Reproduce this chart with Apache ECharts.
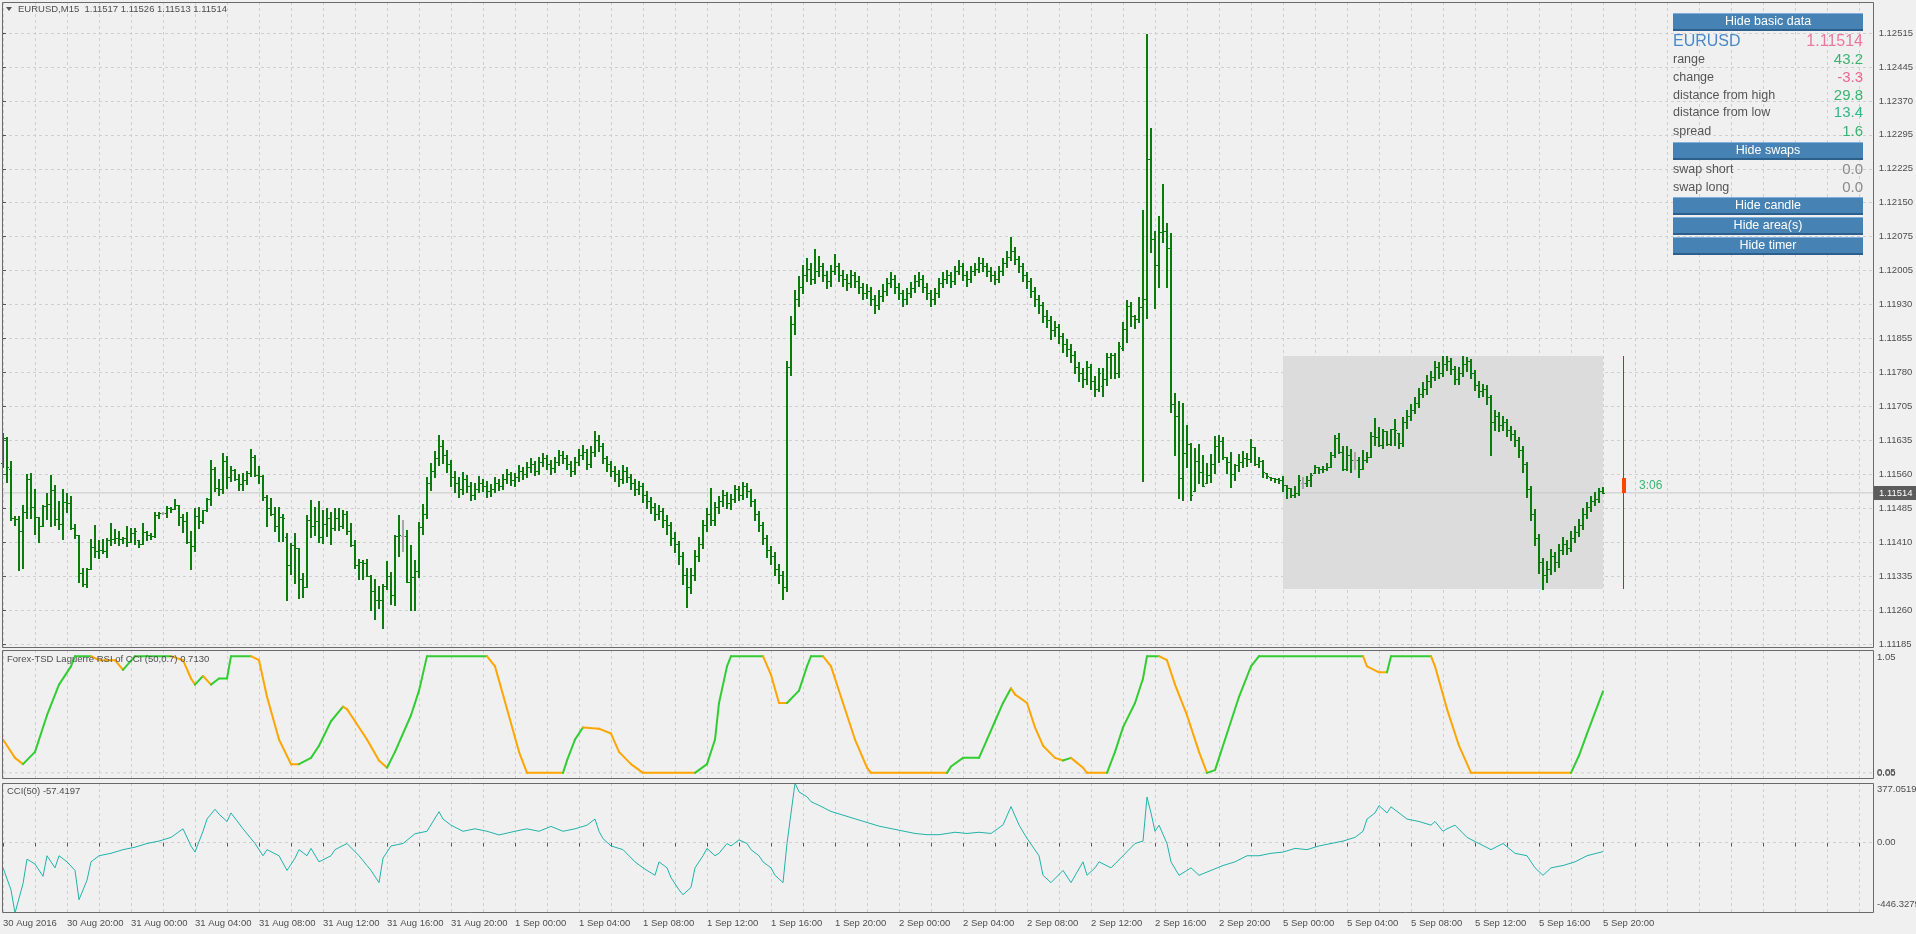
<!DOCTYPE html>
<html><head><meta charset="utf-8">
<script src="https://cdn.jsdelivr.net/npm/echarts@6/dist/echarts.min.js"></script>
<style>html,body{margin:0;padding:0;background:#f0f0f0;}#c{width:1916px;height:934px;}</style>
</head><body><div id="c"></div>
<script>
// ---------------- data ----------------
const xLabels = ['30 Aug 2016','30 Aug 20:00','31 Aug 00:00','31 Aug 04:00','31 Aug 08:00','31 Aug 12:00','31 Aug 16:00','31 Aug 20:00','1 Sep 00:00','1 Sep 04:00','1 Sep 08:00','1 Sep 12:00','1 Sep 16:00','1 Sep 20:00','2 Sep 00:00','2 Sep 04:00','2 Sep 08:00','2 Sep 12:00','2 Sep 16:00','2 Sep 20:00','5 Sep 00:00','5 Sep 04:00','5 Sep 08:00','5 Sep 12:00','5 Sep 16:00','5 Sep 20:00'];
const priceLabels = ['1.11185','1.11260','1.11335','1.11410','1.11485','1.11560','1.11635','1.11705','1.11780','1.11855','1.11930','1.12005','1.12075','1.12150','1.12225','1.12295','1.12370','1.12445','1.12515'];
const quote = [1.11517, 1.11526, 1.11513, 1.11514];
const dayOHLC = [1.11547, 1.11812, 1.11304, 1.11514];
const areaBars = [320, 400];
const candleBar = [405];
const timerText = ['3:06'];
const lrsiRange = [0, 1.05];
const lrsiLevels = [0.05];
const cciRange = [-446.3279, 377.0519];
const cciLevels = [0];

const barOpen = [
1.11578,1.11633,1.11567,1.11459,1.11457,1.11431,1.11473,1.11544,1.11483,1.11461,
1.11442,1.11486,1.11489,1.11520,1.11457,1.11447,1.11495,1.11493,1.11437,1.11422,
1.11339,1.11316,1.11348,1.11397,1.11388,1.11390,1.11388,1.11411,1.11413,1.11415,
1.11413,1.11415,1.11408,1.11426,1.11411,1.11403,1.11428,1.11422,1.11420,1.11466,
1.11471,1.11471,1.11481,1.11478,1.11487,1.11462,1.11452,1.11406,1.11399,1.11464,
1.11452,1.11477,1.11500,1.11567,1.11524,1.11523,1.11583,1.11549,1.11564,1.11544,
1.11533,1.11542,1.11557,1.11591,1.11553,1.11551,1.11506,1.11481,1.11469,1.11441,
1.11462,1.11417,1.11356,1.11401,1.11393,1.11326,1.11310,1.11454,1.11441,1.11452,
1.11417,1.11447,1.11459,1.11437,1.11459,1.11441,1.11468,1.11430,1.11401,1.11357,
1.11364,1.11362,1.11333,1.11301,1.11280,1.11281,1.11311,1.11333,1.11292,1.11420,
1.11420,1.11420,1.11321,1.11330,1.11345,
1.11440,1.11469,1.11536,1.11562,1.11589,1.11616,1.11597,1.11576,1.11549,1.11536,
1.11522,1.11544,1.11528,1.11509,1.11522,1.11536,1.11528,1.11517,1.11522,1.11536,
1.11528,1.11544,1.11554,1.11541,1.11549,1.11562,1.11554,1.11570,1.11576,1.11562,
1.11581,1.11589,1.11576,1.11568,1.11581,1.11597,1.11589,1.11576,1.11562,1.11581,
1.11597,1.11602,1.11576,1.11602,1.11629,1.11616,1.11589,1.11576,1.11562,1.11554,
1.11544,1.11562,1.11549,1.11536,1.11522,1.11528,1.11509,1.11496,1.11483,1.11469,
1.11475,1.11456,1.11443,1.11416,1.11403,1.11376,1.11336,1.11310,1.11336,1.11376,
1.11403,1.11443,1.11469,1.11456,1.11483,1.11496,1.11509,1.11491,1.11501,1.11522,
1.11509,1.11528,1.11517,1.11496,1.11469,1.11443,1.11416,1.11389,1.11376,1.11349,
1.11336,1.11310,1.11789,1.11882,1.11935,1.11962,1.11988,1.12002,1.11980,1.11996,
1.12007,1.11988,1.11975,1.11996,1.12007,1.11988,1.11980,1.11970,1.11988,1.11975,
1.11962,1.11948,1.11954,1.11935,1.11922,1.11943,1.11954,1.11970,1.11980,1.11962,
1.11948,1.11935,1.11948,1.11959,1.11975,1.11980,1.11962,1.11948,1.11935,1.11948,
1.11970,1.11980,1.11988,1.11975,1.11996,1.12007,1.11988,1.11980,1.11996,1.12002,
1.12015,1.12007,1.11996,1.11988,1.11980,1.11996,1.12015,1.12028,1.12041,1.12023,
1.12007,1.11988,1.11975,1.11954,1.11935,1.11922,1.11900,1.11890,1.11868,1.11874,
1.11855,1.11837,1.11828,1.11815,1.11789,1.11775,1.11762,1.11789,1.11757,1.11741,
1.11746,1.11761,1.11809,1.11815,1.11774,1.11830,1.11870,1.11921,1.11898,1.11892,
1.11918,1.11937,1.12240,1.12066,1.12010,1.12082,1.12085,1.12048,1.11707,1.11682,
1.11546,1.11600,1.11620,1.11517,1.11584,1.11560,1.11535,1.11553,1.11576,1.11617,
1.11627,1.11591,1.11581,1.11555,1.11575,1.11582,1.11589,1.11588,1.11613,1.11577,
1.11583,1.11557,1.11548,1.11546,1.11544,1.11541,1.11531,1.11524,1.11509,1.11513,
1.11535,1.11535,1.11542,1.11557,1.11571,1.11565,1.11567,1.11571,1.11596,1.11633,
1.11602,1.11566,1.11596,1.11585,1.11585,1.11567,1.11585,1.11593,1.11638,1.11636,
1.11618,1.11649,1.11620,1.11652,1.11645,
1.11622,1.11669,1.11682,1.11695,1.11709,1.11730,1.11741,1.11757,1.11767,1.11789,
1.11775,1.11794,1.11802,1.11783,1.11762,1.11775,1.11794,1.11802,1.11775,1.11749,
1.11735,1.11741,1.11722,1.11669,1.11682,1.11661,1.11669,1.11650,1.11642,1.11629,
1.11608,1.11576,1.11522,1.11469,1.11416,1.11363,1.11336,1.11349,1.11376,1.11363,
1.11389,1.11403,1.11395,1.11416,1.11429,1.11443,1.11469,1.11483,1.11496,1.11501,
1.11517];
const barHigh = [
1.11644,1.11636,1.11583,1.11464,1.11464,1.11488,1.11554,1.11558,1.11523,1.11462,
1.11487,1.11514,1.11553,1.11531,1.11496,1.11522,1.11513,1.11508,1.11447,1.11422,
1.11350,1.11351,1.11413,1.11444,1.11411,1.11413,1.11415,1.11448,1.11435,1.11430,
1.11419,1.11441,1.11437,1.11438,1.11411,1.11448,1.11432,1.11426,1.11472,1.11473,
1.11473,1.11486,1.11484,1.11501,1.11488,1.11469,1.11473,1.11430,1.11481,1.11484,
1.11477,1.11502,1.11586,1.11570,1.11544,1.11600,1.11594,1.11573,1.11566,1.11554,
1.11558,1.11562,1.11609,1.11596,1.11573,1.11553,1.11509,1.11502,1.11484,1.11484,
1.11469,1.11426,1.11404,1.11426,1.11393,1.11340,1.11466,1.11499,1.11484,1.11496,
1.11477,1.11481,1.11473,1.11482,1.11481,1.11477,1.11475,1.11449,1.11411,1.11369,
1.11368,1.11370,1.11335,1.11326,1.11312,1.11316,1.11366,1.11342,1.11422,1.11466,
1.11455,1.11433,1.11401,1.11368,1.11451,
1.11490,1.11548,1.11580,1.11605,1.11640,1.11630,1.11608,1.11585,1.11562,1.11548,
1.11560,1.11552,1.11538,1.11535,1.11550,1.11545,1.11540,1.11533,1.11548,1.11545,
1.11556,1.11565,1.11560,1.11558,1.11575,1.11570,1.11582,1.11590,1.11583,1.11592,
1.11600,1.11596,1.11585,1.11592,1.11608,1.11606,1.11596,1.11584,1.11592,1.11610,
1.11618,1.11610,1.11615,1.11648,1.11640,1.11622,1.11595,1.11583,1.11572,1.11563,
1.11574,1.11570,1.11556,1.11545,1.11540,1.11535,1.11518,1.11505,1.11492,1.11488,
1.11482,1.11465,1.11450,1.11428,1.11410,1.11385,1.11350,1.11350,1.11390,1.11418,
1.11455,1.11482,1.11525,1.11495,1.11508,1.11520,1.11515,1.11512,1.11532,1.11530,
1.11538,1.11535,1.11522,1.11500,1.11475,1.11450,1.11422,1.11398,1.11385,1.11360,
1.11345,1.11800,1.11900,1.11955,1.11985,1.12010,1.12025,1.12015,1.12045,1.12030,
1.12015,1.11998,1.12010,1.12035,1.12015,1.12000,1.11990,1.12000,1.11995,1.11985,
1.11970,1.11968,1.11962,1.11945,1.11955,1.11968,1.11982,1.11995,1.11988,1.11970,
1.11956,1.11960,1.11972,1.11988,1.11995,1.11988,1.11970,1.11955,1.11960,1.11982,
1.11995,1.12000,1.11995,1.12008,1.12020,1.12015,1.11998,1.12008,1.12015,1.12028,
1.12025,1.12015,1.12005,1.11998,1.12008,1.12025,1.12040,1.12070,1.12050,1.12030,
1.12015,1.11995,1.11982,1.11962,1.11945,1.11930,1.11912,1.11898,1.11888,1.11882,
1.11862,1.11850,1.11838,1.11822,1.11798,1.11785,1.11800,1.11795,1.11768,1.11785,
1.11785,1.11818,1.11819,1.11818,1.11843,1.11887,1.11934,1.11930,1.11901,1.11941,
1.12130,1.12513,1.12308,1.12083,1.12117,1.12186,1.12102,1.12079,1.11731,1.11714,
1.11710,1.11662,1.11622,1.11611,1.11620,1.11596,1.11578,1.11598,1.11638,1.11641,
1.11636,1.11593,1.11604,1.11577,1.11598,1.11605,1.11600,1.11631,1.11613,1.11591,
1.11586,1.11557,1.11548,1.11546,1.11546,1.11551,1.11531,1.11524,1.11529,1.11553,
1.11548,1.11551,1.11558,1.11575,1.11571,1.11573,1.11578,1.11604,1.11640,1.11645,
1.11615,1.11615,1.11609,1.11604,1.11593,1.11607,1.11604,1.11647,1.11678,1.11657,
1.11654,1.11649,1.11654,1.11674,1.11645,
1.11680,1.11695,1.11708,1.11722,1.11742,1.11755,1.11770,1.11780,1.11800,1.11798,
1.11812,1.11812,1.11808,1.11790,1.11788,1.11812,1.11810,1.11806,1.11782,1.11758,
1.11752,1.11748,1.11728,1.11695,1.11690,1.11682,1.11675,1.11660,1.11650,1.11635,
1.11615,1.11582,1.11530,1.11478,1.11425,1.11372,1.11365,1.11392,1.11385,1.11402,
1.11418,1.11412,1.11430,1.11442,1.11458,1.11482,1.11495,1.11508,1.11515,1.11525,
1.11526];
const barLow = [
1.11571,1.11538,1.11455,1.11443,1.11346,1.11351,1.11459,1.11460,1.11425,1.11408,
1.11441,1.11457,1.11442,1.11443,1.11435,1.11414,1.11473,1.11435,1.11415,1.11319,
1.11312,1.11309,1.11348,1.11375,1.11373,1.11383,1.11374,1.11401,1.11404,1.11401,
1.11404,1.11399,1.11406,1.11403,1.11397,1.11402,1.11411,1.11413,1.11419,1.11459,
1.11469,1.11461,1.11473,1.11478,1.11444,1.11428,1.11404,1.11348,1.11388,1.11437,
1.11448,1.11475,1.11488,1.11517,1.11509,1.11513,1.11525,1.11540,1.11542,1.11520,
1.11520,1.11533,1.11551,1.11551,1.11535,1.11499,1.11441,1.11466,1.11432,1.11410,
1.11410,1.11281,1.11337,1.11318,1.11285,1.11287,1.11308,1.11419,1.11422,1.11406,
1.11404,1.11421,1.11402,1.11433,1.11433,1.11437,1.11424,1.11399,1.11350,1.11326,
1.11327,1.11332,1.11259,1.11239,1.11264,1.11219,1.11304,1.11272,1.11269,1.11377,
1.11388,1.11321,1.11259,1.11259,1.11330,
1.11425,1.11460,1.11520,1.11548,1.11575,1.11580,1.11560,1.11530,1.11515,1.11505,
1.11512,1.11515,1.11498,1.11500,1.11515,1.11518,1.11505,1.11508,1.11515,1.11520,
1.11522,1.11535,1.11532,1.11530,1.11540,1.11545,1.11548,1.11560,1.11552,1.11555,
1.11572,1.11565,1.11556,1.11560,1.11575,1.11578,1.11565,1.11550,1.11555,1.11574,
1.11588,1.11566,1.11570,1.11595,1.11605,1.11578,1.11562,1.11550,1.11540,1.11530,
1.11535,1.11538,1.11522,1.11510,1.11512,1.11495,1.11480,1.11470,1.11455,1.11458,
1.11440,1.11425,1.11400,1.11385,1.11360,1.11315,1.11265,1.11295,1.11325,1.11365,
1.11395,1.11430,1.11445,1.11445,1.11470,1.11485,1.11480,1.11478,1.11495,1.11498,
1.11500,1.11505,1.11485,1.11455,1.11430,1.11402,1.11375,1.11360,1.11335,1.11318,
1.11282,1.11300,1.11770,1.11860,1.11920,1.11950,1.11975,1.11968,1.11970,1.11985,
1.11975,1.11960,1.11965,1.11990,1.11975,1.11965,1.11955,1.11962,1.11962,1.11950,
1.11935,1.11938,1.11922,1.11905,1.11915,1.11932,1.11945,1.11962,1.11950,1.11935,
1.11920,1.11925,1.11940,1.11952,1.11965,1.11952,1.11935,1.11920,1.11925,1.11940,
1.11962,1.11970,1.11962,1.11968,1.11990,1.11978,1.11965,1.11972,1.11988,1.11995,
1.11998,1.11985,1.11975,1.11968,1.11972,1.11988,1.12005,1.12020,1.12012,1.11995,
1.11975,1.11960,1.11940,1.11920,1.11905,1.11885,1.11875,1.11850,1.11855,1.11840,
1.11820,1.11812,1.11798,1.11775,1.11758,1.11745,1.11750,1.11740,1.11725,1.11735,
1.11725,1.11749,1.11763,1.11763,1.11767,1.11825,1.11843,1.11877,1.11872,1.11887,
1.11540,1.11894,1.12039,1.11916,1.11963,1.12059,1.11963,1.11691,1.11596,1.11502,
1.11499,1.11571,1.11499,1.11517,1.11535,1.11528,1.11535,1.11538,1.11557,1.11582,
1.11587,1.11558,1.11526,1.11542,1.11562,1.11571,1.11573,1.11582,1.11575,1.11571,
1.11548,1.11546,1.11542,1.11538,1.11535,1.11517,1.11502,1.11504,1.11504,1.11509,
1.11524,1.11528,1.11528,1.11557,1.11557,1.11560,1.11564,1.11571,1.11593,1.11600,
1.11564,1.11564,1.11560,1.11567,1.11549,1.11567,1.11582,1.11593,1.11618,1.11615,
1.11611,1.11618,1.11618,1.11618,1.11611,
1.11615,1.11655,1.11672,1.11688,1.11700,1.11722,1.11730,1.11745,1.11760,1.11765,
1.11768,1.11782,1.11772,1.11750,1.11752,1.11768,1.11780,1.11765,1.11738,1.11722,
1.11725,1.11708,1.11597,1.11650,1.11648,1.11650,1.11638,1.11628,1.11615,1.11592,
1.11560,1.11505,1.11455,1.11400,1.11340,1.11304,1.11320,1.11338,1.11345,1.11352,
1.11380,1.11382,1.11388,1.11408,1.11420,1.11436,1.11460,1.11475,1.11488,1.11495,
1.11513];
const barClose = [
1.11634,1.11570,1.11459,1.11457,1.11431,1.11473,1.11544,1.11483,1.11461,1.11442,
1.11486,1.11489,1.11520,1.11457,1.11447,1.11495,1.11493,1.11437,1.11422,1.11340,
1.11316,1.11348,1.11397,1.11388,1.11390,1.11388,1.11411,1.11413,1.11415,1.11413,
1.11415,1.11408,1.11426,1.11430,1.11403,1.11428,1.11422,1.11420,1.11466,1.11471,
1.11471,1.11481,1.11478,1.11487,1.11462,1.11452,1.11406,1.11399,1.11464,1.11452,
1.11477,1.11500,1.11567,1.11524,1.11523,1.11583,1.11549,1.11564,1.11544,1.11533,
1.11542,1.11557,1.11591,1.11553,1.11551,1.11506,1.11481,1.11469,1.11441,1.11462,
1.11459,1.11356,1.11401,1.11393,1.11326,1.11310,1.11454,1.11441,1.11452,1.11417,
1.11447,1.11459,1.11437,1.11459,1.11441,1.11468,1.11430,1.11401,1.11357,1.11364,
1.11362,1.11333,1.11301,1.11280,1.11281,1.11311,1.11333,1.11292,1.11420,1.11422,
1.11420,1.11321,1.11330,1.11345,1.11440,
1.11469,1.11536,1.11562,1.11589,1.11616,1.11597,1.11576,1.11549,1.11536,1.11522,
1.11544,1.11528,1.11509,1.11522,1.11536,1.11528,1.11517,1.11522,1.11536,1.11528,
1.11544,1.11554,1.11541,1.11549,1.11562,1.11554,1.11570,1.11576,1.11562,1.11581,
1.11589,1.11576,1.11568,1.11581,1.11597,1.11589,1.11576,1.11562,1.11581,1.11597,
1.11602,1.11576,1.11602,1.11629,1.11616,1.11589,1.11576,1.11562,1.11554,1.11544,
1.11562,1.11549,1.11536,1.11522,1.11528,1.11509,1.11496,1.11483,1.11469,1.11475,
1.11456,1.11443,1.11416,1.11403,1.11376,1.11336,1.11310,1.11336,1.11376,1.11403,
1.11443,1.11469,1.11456,1.11483,1.11496,1.11509,1.11491,1.11501,1.11522,1.11509,
1.11528,1.11517,1.11496,1.11469,1.11443,1.11416,1.11389,1.11376,1.11349,1.11336,
1.11310,1.11789,1.11882,1.11935,1.11962,1.11988,1.12002,1.11980,1.11996,1.12007,
1.11988,1.11975,1.11996,1.12007,1.11988,1.11980,1.11970,1.11988,1.11975,1.11962,
1.11948,1.11954,1.11935,1.11922,1.11943,1.11954,1.11970,1.11980,1.11962,1.11948,
1.11935,1.11948,1.11959,1.11975,1.11980,1.11962,1.11948,1.11935,1.11948,1.11970,
1.11980,1.11988,1.11975,1.11996,1.12007,1.11988,1.11980,1.11996,1.12002,1.12015,
1.12007,1.11996,1.11988,1.11980,1.11996,1.12015,1.12028,1.12041,1.12023,1.12007,
1.11988,1.11975,1.11954,1.11935,1.11922,1.11900,1.11890,1.11868,1.11874,1.11855,
1.11837,1.11828,1.11815,1.11789,1.11775,1.11762,1.11789,1.11757,1.11741,1.11775,
1.11761,1.11809,1.11815,1.11774,1.11834,1.11870,1.11921,1.11898,1.11892,1.11918,
1.11937,1.12240,1.12066,1.12010,1.12082,1.12085,1.12048,1.11707,1.11682,1.11546,
1.11600,1.11620,1.11509,1.11584,1.11560,1.11529,1.11553,1.11576,1.11617,1.11627,
1.11591,1.11581,1.11555,1.11575,1.11582,1.11589,1.11588,1.11613,1.11577,1.11583,
1.11560,1.11551,1.11546,1.11544,1.11541,1.11531,1.11524,1.11509,1.11513,1.11542,
1.11535,1.11542,1.11553,1.11571,1.11565,1.11567,1.11570,1.11596,1.11633,1.11602,
1.11566,1.11596,1.11585,1.11585,1.11567,1.11585,1.11591,1.11638,1.11636,1.11618,
1.11649,1.11620,1.11652,1.11650,1.11622,
1.11669,1.11682,1.11695,1.11709,1.11730,1.11741,1.11757,1.11767,1.11789,1.11775,
1.11794,1.11802,1.11783,1.11762,1.11775,1.11794,1.11802,1.11775,1.11749,1.11735,
1.11741,1.11722,1.11669,1.11682,1.11661,1.11669,1.11650,1.11642,1.11629,1.11608,
1.11576,1.11522,1.11469,1.11416,1.11363,1.11336,1.11349,1.11376,1.11363,1.11389,
1.11403,1.11395,1.11416,1.11429,1.11443,1.11469,1.11483,1.11496,1.11501,1.11517,
1.11514];

const lrsiBar = [0,3,5,8,11,14,17,18,22,24,28,30,33,42,45,47,48,50,52,54,56,57,62,64,66,69,72,74,77,79,82,85,86,88,91,94,96,98,102,104,106,121,123,126,129,131,140,141,143,145,149,152,154,157,160,173,176,178,179,181,182,190,192,194,196,199,201,202,205,207,210,213,216,217,236,237,240,244,246,248,250,252,253,256,258,260,263,265,267,270,271,276,278,280,283,285,286,289,291,293,296,299,301,303,306,309,312,314,340,341,344,346,347,357,358,361,364,367,392,394,396,400];
const lrsiVal = [0.321,0.172,0.121,0.221,0.519,0.768,0.917,1.0,1.0,0.967,0.967,0.888,1.0,1.0,0.967,0.818,0.768,0.838,0.768,0.818,0.818,1.0,1.0,0.967,0.669,0.321,0.121,0.121,0.172,0.271,0.470,0.589,0.569,0.470,0.321,0.151,0.092,0.221,0.519,0.719,1.0,1.0,0.917,0.569,0.221,0.05,0.05,0.151,0.321,0.420,0.410,0.370,0.221,0.121,0.05,0.05,0.121,0.321,0.619,0.917,1.0,1.0,0.848,0.619,0.619,0.719,0.917,1.0,1.0,0.917,0.619,0.321,0.092,0.05,0.05,0.102,0.172,0.172,0.321,0.470,0.619,0.738,0.689,0.619,0.420,0.271,0.172,0.151,0.172,0.092,0.05,0.05,0.221,0.420,0.619,0.818,1.0,1.0,0.967,0.768,0.519,0.221,0.05,0.072,0.370,0.669,0.917,1.0,1.0,0.917,0.868,0.868,1.0,1.0,0.917,0.569,0.271,0.05,0.05,0.191,0.370,0.7130];

const cciBar = [0,2,3,5,6,8,10,11,13,14,16,18,19,21,22,24,27,30,33,36,39,42,45,47,48,50,51,53,54,56,57,60,63,65,66,69,71,73,74,76,77,79,82,83,86,89,91,92,94,95,97,100,103,106,109,110,112,115,118,121,124,128,131,134,137,140,143,146,148,149,150,152,155,158,160,161,163,164,166,167,169,170,172,173,175,176,178,179,181,182,184,186,187,189,190,192,193,195,196,198,199,201,202,204,207,210,213,216,219,222,225,228,231,234,238,241,244,247,250,252,254,256,259,260,262,265,267,270,271,273,274,277,280,283,285,286,287,288,289,291,292,294,296,297,299,302,305,308,311,314,317,320,323,326,329,332,335,338,340,341,343,344,346,347,349,351,354,357,358,360,361,363,366,369,372,375,378,381,383,385,387,390,393,396,400];
const cciVal = [-160.3,-299.7,-446.3279,-260.3,-105.4,-136.3,-213.8,-83.7,-160.3,-83.7,-122.4,-176.6,-362.5,-238.5,-122.4,-83.7,-68.2,-45.0,-29.4,-6.2,9.3,32.5,86.8,-21.7,-60.4,71.3,148.7,210.7,179.7,133.3,187.5,86.8,-6.2,-83.7,-45.0,-83.7,-176.6,-99.2,-45.0,-83.7,-37.2,-122.4,-83.7,-45.0,-6.2,-83.7,-145.6,-176.6,-254.0,-99.2,-21.7,-6.2,55.8,71.3,195.2,148.7,110.0,71.3,86.8,71.3,48.0,71.3,86.8,71.3,102.2,71.3,86.8,110.0,148.7,71.3,24.8,-21.7,-45.0,-122.4,-160.3,-176.6,-207.6,-122.4,-160.3,-222.3,-299.7,-330.7,-284.2,-160.3,-83.7,-37.2,-83.7,-68.2,-6.2,-21.7,17.0,-6.2,-45.0,-83.7,-122.4,-160.3,-207.6,-254.0,-6.2,377.0519,320.7,289.7,258.7,235.5,196.8,173.5,150.3,127.1,103.9,88.4,72.9,57.4,49.6,49.6,65.1,57.4,65.1,57.4,111.6,227.7,111.6,26.3,-83.7,-207.6,-254.0,-176.6,-254.0,-122.4,-207.6,-160.3,-122.4,-160.3,-83.7,-6.2,9.3,288.1,187.5,71.3,110.0,-6.2,-122.4,-207.6,-176.6,-160.3,-207.6,-176.6,-145.6,-122.4,-83.7,-83.7,-68.2,-60.4,-37.2,-45.0,-21.7,-6.2,9.3,32.5,71.3,148.7,187.5,234.0,187.5,226.2,187.5,148.7,133.3,110.0,133.3,71.3,86.8,110.0,32.5,-6.2,-45.0,-6.2,-68.2,-83.7,-160.3,-207.6,-160.3,-145.6,-122.4,-83.7,-57.4197];

const panelButtons = ['Hide basic data','Hide swaps','Hide candle','Hide area(s)','Hide timer'];
const panelSymbol = ['EURUSD','1.11514'];
const panelRows = ['range','change','distance from high','distance from low','spread'];
const panelRowValues = ['43.2','-3.3','29.8','13.4','1.6'];
const swapRows = ['swap short','swap long'];
const swapValues = ['0.0','0.0'];

// ---------------- layout / style ----------------
const FONT = 'Liberation Sans';
const TXT = '#4e4e4e';
const BAR = '#0b7b0b', DOJI = '#a8a8a8';
const GREEN = '#32cd32', ORANGE = '#ffa500', CCI_COL = '#20b2aa';
const GL = 3, GR = 43, XMAX = 467.5;
const PMIN = 1.111763, PMAX = 1.125825;
const dash = {color:'#cfcfcf', type:[3,3], width:1};
const F95 = '9.5px "' + FONT + '"';

const barData = [];
for (let i = 0; i < barClose.length; i++) {
  if (barClose[i] != null) barData.push([i, barOpen[i], barHigh[i], barLow[i], barClose[i]]);
}
const segs = [];
let up = false;
for (let i = 1; i < lrsiBar.length; i++) {
  const d = lrsiVal[i] - lrsiVal[i-1];
  if (d > 0) up = true; else if (d < 0) up = false;
  segs.push([lrsiBar[i-1], lrsiVal[i-1], lrsiBar[i], lrsiVal[i], up ? 1 : 0]);
}
const cciData = cciBar.map((k, i) => [k, cciVal[i]]);

function xAxisBase(grid, extra) {
  return Object.assign({gridIndex:grid, type:'value', min:0, max:XMAX, interval:8,
    axisLine:{show:false}, axisTick:{show:false}, axisLabel:{show:false},
    splitLine:{show:true, lineStyle:dash}}, extra || {});
}
function edgeLabels(xi, yi, range, digits, offTop, offBottom) {
  return {type:'custom', xAxisIndex:xi, yAxisIndex:yi, z:10, silent:true, clip:false,
    data:[[XMAX, range[1], 0], [XMAX, range[0], 1]], encode:{x:0, y:1},
    renderItem:(p, api) => {
      const pt = api.coord([api.value(0), api.value(1)]);
      const top = api.value(2) === 0;
      return {type:'text', style:{x:pt[0] + 4, y: top ? pt[1] + offTop : pt[1] - offBottom,
        text: api.value(1).toFixed(digits), fill:TXT, font:F95, align:'left', verticalAlign: top ? 'top' : 'bottom'}};
    }};
}

const option = {
  backgroundColor:'#f0f0f0',
  animation:false,
  grid:[
    {left:GL, right:GR, top:2, height:646},
    {left:GL, right:GR, top:33, height:611},
    {left:GL, right:GR, top:650, height:129},
    {left:GL, right:GR, top:783, height:130}
  ],
  xAxis:[
    xAxisBase(0),
    {gridIndex:1, type:'value', min:0, max:XMAX, show:false},
    xAxisBase(2),
    xAxisBase(3, {
      axisTick:{show:true, length:4, lineStyle:{color:'#555'}},
      axisLabel:{show:true, align:'left', margin:5, color:TXT, fontFamily:FONT, fontSize:9.5,
        formatter: v => (v % 16 === 0 && xLabels[v/16]) ? xLabels[v/16] : ''}
    })
  ],
  yAxis:[
    {gridIndex:0, type:'value', min:PMIN, max:PMAX, show:false},
    {gridIndex:1, type:'value', min:0, max:priceLabels.length-1, interval:1, position:'right',
      axisLine:{show:false}, axisTick:{show:true, length:3, lineStyle:{color:'#555'}},
      axisLabel:{margin:6, color:TXT, fontFamily:FONT, fontSize:9.5, formatter: v => priceLabels[Math.round(v)]},
      splitLine:{show:true, lineStyle:dash}},
    {gridIndex:2, type:'value', min:lrsiRange[0], max:lrsiRange[1], show:false},
    {gridIndex:3, type:'value', min:cciRange[0], max:cciRange[1], show:false}
  ],
  series:[
    {type:'custom', xAxisIndex:0, yAxisIndex:0, z:1, silent:true,
      data:[[areaBars[0], areaBars[1], dayOHLC[2], dayOHLC[1]]], encode:{x:[0,1], y:[2,3]},
      renderItem:(p, api) => {
        const a = api.coord([api.value(0), api.value(3)]);
        const b = api.coord([api.value(1), api.value(2)]);
        return {type:'rect', shape:{x:Math.round(a[0]), y:Math.round(a[1]), width:Math.round(b[0]-a[0]), height:Math.round(b[1]-a[1])},
          style:{fill:'#dcdcdc'}};
      }},
    {type:'line', xAxisIndex:0, yAxisIndex:0, z:2, silent:true, symbol:'none',
      data:[[0, quote[3]], [XMAX, quote[3]]], lineStyle:{color:'#c8c8c8', width:1}},
    {type:'custom', xAxisIndex:0, yAxisIndex:0, z:3, silent:true,
      data:barData, encode:{x:0, y:[1,2,3,4]},
      renderItem:(p, api) => {
        const k = api.value(0), o = api.value(1), h = api.value(2), l = api.value(3), c = api.value(4);
        const x = Math.round(api.coord([k, o])[0]);
        const yo = Math.round(api.coord([k, o])[1]);
        const yh = Math.round(api.coord([k, h])[1]);
        const yl = Math.round(api.coord([k, l])[1]);
        const yc = Math.round(api.coord([k, c])[1]);
        const col = (o === c) ? DOJI : BAR;
        return {type:'group', children:[
          {type:'rect', shape:{x:x-1, y:yh, width:2, height:Math.max(1, yl-yh+1)}, style:{fill:col}},
          {type:'rect', shape:{x:x-2, y:yo, width:1, height:1}, style:{fill:col}},
          {type:'rect', shape:{x:x+1, y:yc, width:1, height:1}, style:{fill:col}}
        ]};
      }},
    {type:'custom', xAxisIndex:0, yAxisIndex:0, z:4, silent:true, clip:false,
      data:[[candleBar[0], dayOHLC[0], dayOHLC[1], dayOHLC[2], dayOHLC[3]]], encode:{x:0, y:[1,2,3,4]},
      renderItem:(p, api) => {
        const k = api.value(0);
        const x = Math.round(api.coord([k, api.value(1)])[0]);
        const yo = Math.round(api.coord([k, api.value(1)])[1]);
        const yh = Math.round(api.coord([k, api.value(2)])[1]);
        const yl = Math.round(api.coord([k, api.value(3)])[1]);
        const yc = Math.round(api.coord([k, api.value(4)])[1]);
        const tx = api.coord([k + 4, api.value(4)])[0];
        return {type:'group', children:[
          {type:'rect', shape:{x:x, y:yh, width:1, height:yl-yh}, style:{fill:'#dc143c'}},
          {type:'rect', shape:{x:x-1, y:Math.min(yo,yc), width:4, height:Math.abs(yc-yo)}, style:{fill:'#ff4500'}},
          {type:'text', style:{x:tx, y:(yo+yc)/2, text:timerText[0], fill:'#3cb371', font:'12px "'+FONT+'"', align:'left', verticalAlign:'middle'}}
        ]};
      }},
    {type:'custom', xAxisIndex:0, yAxisIndex:0, z:10, silent:true, clip:false,
      data:[[XMAX, quote[3]]], encode:{x:0, y:1},
      renderItem:(p, api) => {
        const pt = api.coord([api.value(0), api.value(1)]);
        const y = Math.round(pt[1]);
        return {type:'group', children:[
          {type:'rect', shape:{x:Math.round(pt[0])+1, y:y-7, width:42, height:14}, style:{fill:'#5c5c5c'}},
          {type:'text', style:{x:Math.round(pt[0])+6, y:y, text:quote[3].toFixed(5), fill:'#ffffff', font:F95, align:'left', verticalAlign:'middle'}}
        ]};
      }},
    {type:'line', xAxisIndex:2, yAxisIndex:2, z:2, silent:true, symbol:'none',
      data:[[0, lrsiLevels[0]], [XMAX, lrsiLevels[0]]], lineStyle:dash,
      endLabel:{show:true, formatter:lrsiLevels[0].toFixed(2), color:TXT, fontFamily:FONT, fontSize:9.5, distance:4}},
    {type:'custom', xAxisIndex:2, yAxisIndex:2, z:3, silent:true,
      data:segs, encode:{x:[0,2], y:[1,3]},
      renderItem:(p, api) => {
        const a = api.coord([api.value(0), api.value(1)]);
        const b = api.coord([api.value(2), api.value(3)]);
        return {type:'line', shape:{x1:a[0], y1:a[1], x2:b[0], y2:b[1]},
          style:{stroke: api.value(4) ? GREEN : ORANGE, lineWidth:2, lineCap:'round'}};
      }},
    edgeLabels(2, 2, lrsiRange, 2, 2, 1),
    {type:'line', xAxisIndex:3, yAxisIndex:3, z:2, silent:true, symbol:'none',
      data:[[0, cciLevels[0]], [XMAX, cciLevels[0]]], lineStyle:dash,
      endLabel:{show:true, formatter:cciLevels[0].toFixed(2), color:TXT, fontFamily:FONT, fontSize:9.5, distance:4}},
    {type:'line', xAxisIndex:3, yAxisIndex:3, z:3, silent:true, symbol:'none',
      data:cciData, lineStyle:{color:CCI_COL, width:1}},
    edgeLabels(3, 3, cciRange, 4, 1, 4)
  ],
  graphic:[]
};

const frames = [[2.5,2.5,1871,645],[2.5,650.5,1871,128],[2.5,783.5,1871,129]];
frames.forEach(f => option.graphic.push({type:'rect', silent:true, z:50,
  shape:{x:f[0], y:f[1], width:f[2], height:f[3]}, style:{fill:null, stroke:'#6a6a6a', lineWidth:1}}));

function txt(x, y, s, color, size, align) {
  return {type:'text', silent:true, z:60, x:x, y:y, style:{text:s, fill:color, font:size+'px "'+FONT+'"',
    textAlign:align, textVerticalAlign:'middle', align:align, verticalAlign:'middle'}};
}
option.graphic.push({type:'polygon', silent:true, z:50, shape:{points:[[6,7],[12,7],[9,11]]}, style:{fill:'#555'}});
option.graphic.push(txt(18, 9, 'EURUSD,M15  ' + quote.map(v => v.toFixed(5)).join(' '), TXT, 9.5, 'left'));
option.graphic.push(txt(7, 659, 'Forex-TSD Laguerre RSI of CCI (50,0.7) ' + lrsiVal[lrsiVal.length-1].toFixed(4), TXT, 9.5, 'left'));
option.graphic.push(txt(7, 791, 'CCI(50) ' + cciVal[cciVal.length-1].toFixed(4), TXT, 9.5, 'left'));

const PX = 1673, PW = 190;
const btnTops = [13, 142, 197, 217, 237];
panelButtons.forEach((b, i) => {
  const y = btnTops[i];
  option.graphic.push({type:'rect', silent:true, z:60, shape:{x:PX, y:y, width:PW, height:18}, style:{fill:'#4682b4'}});
  option.graphic.push({type:'rect', silent:true, z:61, shape:{x:PX, y:y, width:PW, height:1}, style:{fill:'#7fb0dc'}});
  option.graphic.push({type:'rect', silent:true, z:61, shape:{x:PX, y:y+16, width:PW, height:2}, style:{fill:'#2d5f8c'}});
  option.graphic.push(txt(PX + PW/2, y + 9, b, '#ffffff', 12.5, 'center'));
});
option.graphic.push(txt(PX, 42, panelSymbol[0], '#4a88c8', 16, 'left'));
option.graphic.push(txt(PX + PW, 42, panelSymbol[1], '#e77aa0', 16, 'right'));
const rowY = [60, 78, 96, 113, 132];
const rowCol = ['#3cb371', '#e8678f', '#3cb371', '#36b38a', '#3cb371'];
panelRows.forEach((r, i) => {
  option.graphic.push(txt(PX, rowY[i], r, '#555555', 12.5, 'left'));
  option.graphic.push(txt(PX + PW, rowY[i], panelRowValues[i], rowCol[i], 15, 'right'));
});
const swapY = [170, 188];
swapRows.forEach((r, i) => {
  option.graphic.push(txt(PX, swapY[i], r, '#555555', 12.5, 'left'));
  option.graphic.push(txt(PX + PW, swapY[i], swapValues[i], '#8a8a8a', 15, 'right'));
});

const chart = echarts.init(document.getElementById('c'), null, {renderer:'canvas', width:1916, height:934});
chart.setOption(option);
</script>
</body></html>
